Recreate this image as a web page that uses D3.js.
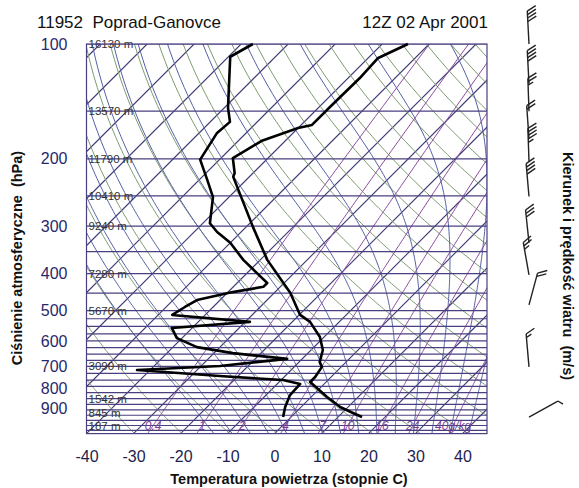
<!DOCTYPE html>
<html>
<head>
<meta charset="utf-8">
<script src="https://cdn.jsdelivr.net/npm/d3@7"></script>
<style>
  body { margin: 0; background: #fff; }
  svg { display: block; font-family: "Liberation Sans", Arial, sans-serif; }
  .pre { white-space: pre; }
</style>
</head>
<body>
<script>
// axis ticks
const pressureTicks = [100, 200, 300, 400, 500, 600, 700, 800, 900];
const tempTicks = [-40, -30, -20, -10, 0, 10, 20, 30, 40];

// standard levels with heights
const heightLevels = [100, 150, 200, 250, 300, 400, 500, 700, 850, 925, 1000];
const heightLabels = ["16130 m", "13570 m", "11790 m", "10410 m", "9240 m", "7280 m",
                      "5670 m", "3090 m", "1542 m", "845 m", "187 m"];

// horizontal isobars
const isobarLevels = [100, 150, 200, 250, 300, 350, 400, 450, 500, 525, 550, 575, 600, 625,
                      650, 675, 700, 730, 760, 790, 820, 850, 880, 910, 940, 970, 1000, 1030];

// background families
const isotherms = d3.range(-130, 50, 10);
const dryAdiabats = d3.range(240, 490, 10);          // K
const moistAdiabats = d3.range(-16, 44, 4);          // deg C at 1000 hPa
const mixingRatios = [0.4, 1, 2, 4, 7, 10, 16, 24, 40];
const mixingLabels = ["0.4", "1", "2", "4", "7", "10", "16", "24", "40g/kg"];

// sounding: temperature
const tempPressure = [100, 109, 123, 146, 163, 166, 179, 199, 218, 223, 302, 368, 449, 513,
                      535, 586, 634, 682, 702, 746, 769, 842, 894, 927, 950];
const tempValues = [-54.5, -57.9, -57.5, -57.7, -57.7, -60.0, -64.9, -67.5, -63.9, -63.4, -48.5,
                    -38.5, -26.6, -19.8, -16.2, -10.9, -7.5, -5.6, -4.1, -3.4, -3.4, 3.4, 8.3, 12.3, 15.1];

// sounding: dew point
const dewPressure = [100, 108, 147, 160, 171, 201, 227, 252, 295, 311, 332, 368, 423, 433, 447,
                     469, 489, 513, 535, 555, 590, 623, 646, 669, 698, 715, 742, 760, 778, 832, 894, 950];
const dewValues = [-87.5, -89.6, -79.2, -75.8, -76.2, -74.1, -68.3, -63.4, -58.5, -55.1, -50.0,
                   -43.6, -33.6, -33.6, -39.0, -44.9, -46.0, -47.0, -29.0, -44.3, -41.1, -34.9,
                   -26.0, -13.2, -26.0, -42.8, -23.9, -9.6, -5.1, -4.9, -3.4, -1.7];

// winds
const windPressure = [100, 127, 150, 177, 203, 251, 332, 403, 483, 702, 950];
const windDir = [357, 357, 358, 356, 358, 355, 354, 350, 15, 355, 61];
const windSpeed = [40, 40, 25, 20, 45, 40, 30, 25, 20, 15, 5];

const width = 579;
const height = 488;
const plot = { left: 86.5, right: 487, top: 44, bottom: 433.6 };

const svg = d3.select("body")
    .append("svg")
    .attr("width", width)
    .attr("height", height);

const y = d3.scaleLog().domain([1050, 100]).range([plot.bottom, plot.top]);
const xBase = d3.scaleLinear().domain([-40, 40]).range([86.5, 462.5]);
const skewX = (t, p) => xBase(t) + (plot.bottom - y(p));

const line = d3.line()
    .x(d => skewX(d[1], d[0]))
    .y(d => y(d[0]));

svg.append("clipPath").attr("id", "clip")
    .append("rect")
    .attr("x", plot.left).attr("y", plot.top)
    .attr("width", plot.right - plot.left)
    .attr("height", plot.bottom - plot.top);

const grid = svg.append("g").attr("clip-path", "url(#clip)");
const levels = d3.range(1050, 95, -5);

function drawFamily(series, color, w) {
    grid.append("g")
        .selectAll("path")
        .data(series)
        .enter().append("path")
        .attr("d", line)
        .attr("fill", "none")
        .attr("stroke", color)
        .attr("stroke-width", w);
}

// isotherms
drawFamily(isotherms.map(t => [[1050, t], [100, t]]), "#3f3a78", 1.1);

// dry adiabats
drawFamily(dryAdiabats.map(th => levels.map(p => [p, th * Math.pow(p / 1000, 0.286) - 273.15])),
    "#7d9a70", 1);

// moist (pseudo) adiabats
function moistLapse(p, T) {
    const Rd = 287.04, cp = 1005.7, Lv = 2.501e6, eps = 0.622;
    const es = 6.112 * Math.exp(17.67 * (T - 273.15) / (T - 29.65));
    const rs = eps * es / (p - es);
    return (Rd * T + Lv * rs) / (cp + Lv * Lv * rs * eps / (Rd * T * T)) / p;
}
function moistCurve(t0) {
    const up = [];
    let T = t0 + 273.15;
    for (let p = 1000; p >= 100; p -= 5) {
        up.push([p, T - 273.15]);
        T -= moistLapse(p, T) * 5;
    }
    const T1 = t0 + 273.15 + moistLapse(1000, t0 + 273.15) * 50;
    return [[1050, T1 - 273.15]].concat(up);
}
drawFamily(moistAdiabats.map(moistCurve), "#5560a6", 1);

// mixing ratio lines
function dewFromMix(w, p) {
    const e = w * p / (622 + w);
    const l = Math.log(e / 6.112);
    return 243.5 * l / (17.67 - l);
}
drawFamily(mixingRatios.map(w => levels.map(p => [p, dewFromMix(w, p)])), "#8a4b9e", 1);

// isobars
grid.append("g")
    .selectAll("line")
    .data(isobarLevels)
    .enter().append("line")
    .attr("x1", plot.left).attr("x2", plot.right)
    .attr("y1", d => y(d)).attr("y2", d => y(d))
    .attr("stroke", "#4a3f80")
    .attr("stroke-width", 1.2);

// height labels
svg.append("g")
    .selectAll("text")
    .data(heightLevels)
    .enter().append("text")
    .attr("x", plot.left + 2)
    .attr("y", d => y(d) + 4)
    .attr("font-size", 11.5)
    .attr("fill", "#333")
    .text((d, i) => heightLabels[i]);

// mixing ratio labels
svg.append("g")
    .selectAll("text")
    .data(mixingRatios)
    .enter().append("text")
    .attr("x", d => skewX(dewFromMix(d, 1000), 1000))
    .attr("y", y(1000) + 4.5)
    .attr("text-anchor", "middle")
    .attr("font-size", 12)
    .attr("font-style", "italic")
    .attr("fill", "#7a3f98")
    .text((d, i) => mixingLabels[i]);

// plot frame
svg.append("rect")
    .attr("x", plot.left).attr("y", plot.top)
    .attr("width", plot.right - plot.left)
    .attr("height", plot.bottom - plot.top)
    .attr("fill", "none")
    .attr("stroke", "#4a3f80")
    .attr("stroke-width", 1.2);

// profiles
const profiles = [
    tempPressure.map((p, i) => [p, tempValues[i]]),
    dewPressure.map((p, i) => [p, dewValues[i]])
];
svg.append("g")
    .selectAll("path")
    .data(profiles)
    .enter().append("path")
    .attr("d", line)
    .attr("fill", "none")
    .attr("stroke", "#000")
    .attr("stroke-width", 2.6)
    .attr("stroke-linejoin", "round");

// axes
const yAxis = svg.append("g")
    .attr("transform", `translate(${plot.left - 16},0)`)
    .call(d3.axisLeft(y).tickValues(pressureTicks).tickSize(0).tickFormat(d3.format("d")));
yAxis.select(".domain").remove();
yAxis.selectAll("text")
    .attr("font-size", 16)
    .attr("font-family", "Liberation Sans, Arial, sans-serif")
    .attr("fill", "#28286a");

const xAxis = svg.append("g")
    .attr("transform", `translate(0,${plot.bottom + 14})`)
    .call(d3.axisBottom(xBase).tickValues(tempTicks).tickSize(0));
xAxis.select(".domain").remove();
xAxis.selectAll("text")
    .attr("font-size", 16)
    .attr("font-family", "Liberation Sans, Arial, sans-serif")
    .attr("fill", "#1e1e50")
    .text(d => d);

// titles
svg.append("text")
    .attr("class", "pre")
    .attr("x", 37).attr("y", 28)
    .attr("font-size", 17)
    .attr("fill", "#111")
    .text("11952  Poprad-Ganovce");

svg.append("text")
    .attr("x", 488).attr("y", 28)
    .attr("text-anchor", "end")
    .attr("font-size", 17)
    .attr("fill", "#111")
    .text("12Z 02 Apr 2001");

svg.append("text")
    .attr("x", 289).attr("y", 484)
    .attr("text-anchor", "middle")
    .attr("font-size", 14.5)
    .attr("font-weight", "bold")
    .attr("fill", "#111")
    .text("Temperatura powietrza (stopnie C)");

svg.append("text")
    .attr("class", "pre")
    .attr("transform", "translate(22,258) rotate(-90)")
    .attr("text-anchor", "middle")
    .attr("font-size", 14.5)
    .attr("font-weight", "bold")
    .attr("fill", "#111")
    .text("Ciśnienie atmosferyczne  (hPa)");

svg.append("text")
    .attr("class", "pre")
    .attr("transform", "translate(563,266) rotate(90)")
    .attr("text-anchor", "middle")
    .attr("font-size", 14.5)
    .attr("font-weight", "bold")
    .attr("fill", "#111")
    .text("Kierunek i prędkość wiatru  (m/s)");

// wind barbs
const barbs = svg.append("g")
    .attr("stroke", "#222")
    .attr("stroke-width", 1.4)
    .attr("fill", "none");

windPressure.forEach((p, i) => {
    const a = windDir[i] * Math.PI / 180;
    const u = [Math.sin(a), -Math.cos(a)];
    const r = [-u[1], u[0]];
    const staff = 33, flen = 10, gap = 3.5;
    const bx = 529, by = y(p);
    const tx = bx + u[0] * staff, ty = by + u[1] * staff;
    barbs.append("line")
        .attr("x1", bx).attr("y1", by)
        .attr("x2", tx).attr("y2", ty);

    let s = windSpeed[i];
    let pos = 0;
    const feather = len => {
        const sx = tx - u[0] * pos, sy = ty - u[1] * pos;
        barbs.append("line")
            .attr("x1", sx).attr("y1", sy)
            .attr("x2", sx + (r[0] * 0.87 + u[0] * 0.5) * len)
            .attr("y2", sy + (r[1] * 0.87 + u[1] * 0.5) * len);
        pos += gap;
    };
    while (s >= 50) {
        const sx = tx - u[0] * pos, sy = ty - u[1] * pos;
        barbs.append("path")
            .attr("d", `M${sx},${sy}L${sx + r[0] * flen},${sy + r[1] * flen}L${sx - u[0] * 6},${sy - u[1] * 6}Z`)
            .attr("fill", "#222");
        pos += 8;
        s -= 50;
    }
    while (s >= 10) { feather(flen); s -= 10; }
    if (s >= 5) feather(flen * 0.6);
});
</script>
</body>
</html>
